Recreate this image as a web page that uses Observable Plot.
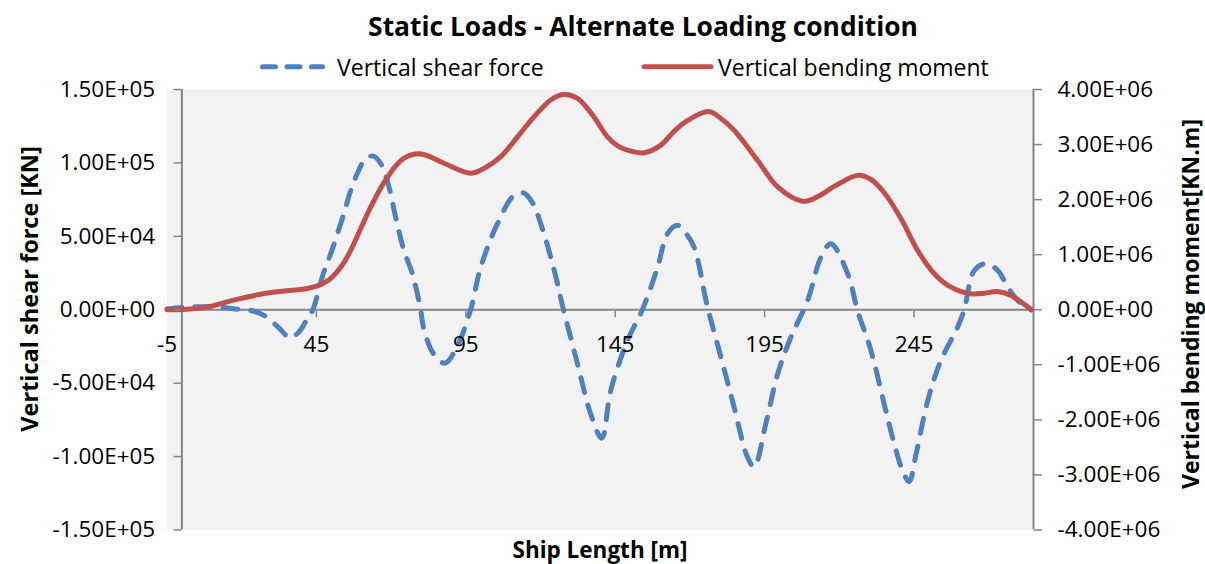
<!DOCTYPE html>
<html><head><meta charset="utf-8">
<script src="https://cdn.jsdelivr.net/npm/d3@7"></script>
<script src="https://cdn.jsdelivr.net/npm/@observablehq/plot@0.6"></script>
<style>
body{margin:0;background:#fff;}
#wrap{position:relative;width:1205px;height:564px;font-family:"Open Sans",sans-serif;color:#000;overflow:hidden;background:#fff}
.t{position:absolute;white-space:nowrap;transform:translate(-50%,-50%);line-height:1}
#title{font-weight:bold;font-size:26.4px}
.ax{font-weight:bold}
.rot{transform:translate(-50%,-50%) rotate(-90deg)}
.leg{position:absolute;font-size:23px;white-space:nowrap;line-height:1;transform:translateY(-50%)}
#chart{position:absolute;left:0;top:50px}
</style></head>
<body>
<div id="wrap">
  <div class="t" id="title" style="left:643px;top:26px">Static Loads - Alternate Loading condition</div>
  <svg style="position:absolute;left:0;top:0" width="1205" height="80">
    <line x1="262.5" x2="322.5" y1="66.7" y2="66.7" stroke="#4f81bd" stroke-width="5" stroke-linecap="round" stroke-dasharray="13 11.5"/>
    <line x1="644" x2="711" y1="66.7" y2="66.7" stroke="#c0504d" stroke-width="5" stroke-linecap="round"/>
  </svg>
  <div class="leg" id="leg1" style="left:337px;top:67px">Vertical shear force</div>
  <div class="leg" id="leg2" style="left:718px;top:67px">Vertical bending moment</div>
  <div id="chart"></div>
  <div class="t ax rot" style="left:30px;top:289px;font-size:23.5px">Vertical shear force [KN]</div>
  <div class="t ax rot" style="left:1190px;top:304px;font-size:23px">Vertical bending moment[KN.m]</div>
  <div class="t ax" style="left:600px;top:550px;font-size:22.5px">Ship Length [m]</div>
</div>
<script>
// Ship length positions [m] and vertical shear force [KN]
const shearX = [-5, 0, 5, 12, 18, 23, 28, 32.7, 36, 39, 42, 43.8, 47.3, 49.8, 54.2, 56.5, 58.7, 61.5, 64.1, 66.5, 69.3, 71.5, 74.3, 77.1, 79.9, 80.8, 84.2, 88, 92, 96.6, 100, 105.6, 111.2, 114.5, 117.3, 120.1, 124.6, 127.7, 132.4, 136.8, 140.5, 143.5, 149.1, 154.1, 159.2, 162.5, 166, 168.7, 171.4, 175.9, 180.4, 184.8, 189.3, 191.5, 195.4, 199.4, 203.8, 209.4, 213.9, 217.2, 222.8, 226.1, 230.6, 235, 238.4, 241.2, 243.4, 245.7, 249.6, 254, 259.6, 261.8, 265.2, 269.1, 273, 276.4, 279.7, 284.2];
const shearKN = [500, 1500, 2000, 1800, 500, -500, -4500, -12800, -19000, -15500, -6000, 0, 24500, 38200, 65500, 81400, 92800, 103000, 104600, 99600, 83600, 63200, 40400, 24600, 0, -11900, -30000, -36400, -25500, 0, 29000, 58600, 78000, 79500, 73000, 58600, 26800, 0, -36800, -71000, -87500, -55000, -21000, 0, 29000, 51800, 57500, 52000, 42700, 1800, -32300, -66400, -100500, -107000, -77800, -43600, -18700, 6300, 35900, 45000, 24600, -500, -27800, -64000, -91400, -109600, -117000, -98200, -61900, -34600, -11900, 0, 26800, 31400, 26800, 15400, 6300, 0];
// Ship length positions [m] and vertical bending moment [KN.m]
const momentX = [-5, 0, 8, 17, 28, 36, 42, 47, 50, 53.5, 56.5, 63.2, 68.8, 74, 80, 87.7, 96.6, 101.5, 106.7, 112.3, 117.8, 123.4, 127.6, 132.4, 137.9, 142.4, 146, 151, 154.7, 160.3, 164.7, 169, 176.3, 180.5, 184.8, 192.7, 199.4, 207.7, 213, 218.3, 226.1, 230.5, 235, 240.6, 246.2, 251.8, 257.4, 264, 268.5, 273, 277.5, 281.9, 284.3];
const momentKNm = [0, 5000, 45000, 170000, 300000, 350000, 385000, 470000, 580000, 800000, 1080000, 1870000, 2410000, 2740000, 2830000, 2660000, 2480000, 2580000, 2780000, 3140000, 3500000, 3810000, 3910000, 3840000, 3500000, 3140000, 2970000, 2870000, 2850000, 2990000, 3240000, 3430000, 3600000, 3470000, 3260000, 2710000, 2230000, 1970000, 2060000, 2240000, 2440000, 2370000, 2130000, 1660000, 1080000, 655000, 410000, 290000, 300000, 330000, 260000, 100000, 0];
// Axis ticks
const xTicks = [-5, 45, 95, 145, 195, 245];
const leftTicks = [-150000, -100000, -50000, 0, 50000, 100000, 150000];
const rightTicks = [-4000000, -3000000, -2000000, -1000000, 0, 1000000, 2000000, 3000000, 4000000];

const xDomain = [-5, 285];
const K = 150000 / 4000000; // secondary axis mapped onto primary
const shear = shearX.map((x, i) => ({x, y: shearKN[i]}));
const moment = momentX.map((x, i) => ({x, y: momentKNm[i] * K}));

function fmt(v) {
  const [m, e] = v.toExponential(2).split("e");
  const n = +e;
  return m + "E" + (n < 0 ? "-" : "+") + String(Math.abs(n)).padStart(2, "0");
}

const W = 1205, H = 514, mt = 39, mb = 34.5, ml = 166.5, mr = 172;
const innerH = H - mt - mb, innerW = W - ml - mr;
const zeroDy = -innerH * (0 - (-150000)) / 300000;
const zeroDx = innerW * (0 - xDomain[0]) / (xDomain[1] - xDomain[0]);
const axisGray = "#868686";

const chart = Plot.plot({
  width: W, height: H,
  marginTop: mt, marginBottom: mb, marginLeft: ml, marginRight: mr,
  style: {fontFamily: "Open Sans, sans-serif", fontSize: "22px", color: "#000", background: "transparent", overflow: "visible"},
  x: {domain: xDomain},
  y: {domain: [-150000, 150000]},
  marks: [
    Plot.frame({fill: "#f2f2f2", stroke: null}),
    Plot.ruleY([0], {stroke: axisGray, strokeWidth: 2}),
    Plot.ruleX([0], {stroke: axisGray, strokeWidth: 2}),
    Plot.ruleX([xDomain[1]], {stroke: axisGray, strokeWidth: 2}),
    Plot.line(shear, {x: "x", y: "y", stroke: "#4f81bd", strokeWidth: 5, strokeDasharray: "15 13", strokeLinecap: "round", curve: "catmull-rom"}),
    Plot.line(moment, {x: "x", y: "y", stroke: "#c0504d", strokeWidth: 5, curve: "catmull-rom"}),
    Plot.axisY({anchor: "left", ticks: leftTicks, tickFormat: fmt, tickSize: 8, tickPadding: 18.7, dx: zeroDx, stroke: axisGray, strokeWidth: 1.5, label: null, fontSize: 22.5}),
    Plot.axisY({anchor: "right", ticks: rightTicks.map(m => m * K), tickFormat: d => fmt(Math.round(d / K)), tickSize: 8, tickPadding: 16, stroke: axisGray, strokeWidth: 1.5, label: null, fontSize: 22.5}),
    Plot.axisX({anchor: "bottom", ticks: xTicks, tickFormat: d => String(d), tickSize: 0, tickPadding: 26.5, dy: zeroDy, label: null, fontSize: 22.5}),
    Plot.axisX({anchor: "bottom", ticks: xTicks.slice(1), tickFormat: () => "", tickSize: 8, dy: zeroDy, stroke: axisGray, strokeWidth: 1.5, label: null})
  ]
});
document.getElementById("chart").appendChild(chart);
</script>
</body></html>
